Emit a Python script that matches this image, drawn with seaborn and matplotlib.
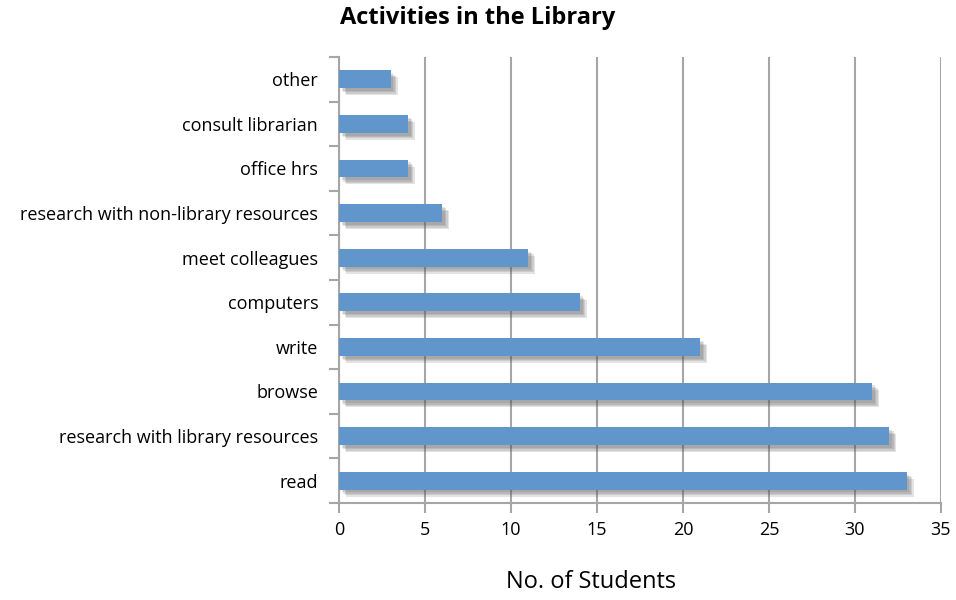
import pandas as pd
import matplotlib
matplotlib.use("Agg")
import matplotlib.pyplot as plt
import matplotlib.patheffects as pe
import seaborn as sns

# datos
activities = ["other", "consult librarian", "office hrs",
              "research with non-library resources", "meet colleagues",
              "computers", "write", "browse",
              "research with library resources", "read"]
students = [3, 4, 4, 6, 11, 14, 21, 31, 32, 33]
x_ticks = [0, 5, 10, 15, 20, 25, 30, 35]

sns.set_style("white")
plt.rcParams["font.family"] = ["Open Sans", "DejaVu Sans"]
plt.rcParams["text.color"] = "black"
plt.rcParams["xtick.color"] = "black"
plt.rcParams["ytick.color"] = "black"

df = pd.DataFrame({"activity": activities, "students": students})

fig = plt.figure(figsize=(9.56, 6.0), dpi=100)
ax = fig.add_axes([0.3546, 0.1617, 0.6297, 0.7433])

sns.barplot(data=df, x="students", y="activity", ax=ax, color="#6096CC",
            saturation=1, width=0.4, linewidth=0, zorder=3)

# sombra suave (varias capas)
sombra = [pe.SimplePatchShadow(offset=(d, -d), shadow_rgbFace="#555555", alpha=0.16)
          for d in (5, 4, 3, 2)]
for p in ax.patches:
    p.set_path_effects(sombra + [pe.Normal()])

grid_c = "#A6A6A6"
ax.set_xlim(0, 35)
ax.set_ylim(9.5, -0.5)
ax.set_xticks(x_ticks)
ax.xaxis.grid(True, color=grid_c, linewidth=1.5, zorder=0)
ax.set_axisbelow(True)
for s in ["top", "right"]:
    ax.spines[s].set_visible(False)
for s in ["left", "bottom"]:
    ax.spines[s].set_color(grid_c)
    ax.spines[s].set_linewidth(1.5)

ax.tick_params(axis="x", bottom=True, length=7, width=1.5, color=grid_c,
               labelcolor="black", labelsize=13, pad=6)
ax.tick_params(axis="y", which="major", left=True, length=0, labelcolor="black",
               labelsize=13, pad=15)
ax.set_yticks([i - 0.5 for i in range(11)], minor=True)
ax.tick_params(axis="y", which="minor", left=True, length=7, width=1.5, color=grid_c)
ax.set_xlabel("")
ax.set_ylabel("")

fig.suptitle("Activities in the Library", x=0.5, y=0.99, fontsize=17,
             fontweight="bold", color="black")
fig.text(591 / 956, 0.03, "No. of Students", ha="center", va="center",
         fontsize=17, color="black")

fig.savefig("out.png", dpi=100)
